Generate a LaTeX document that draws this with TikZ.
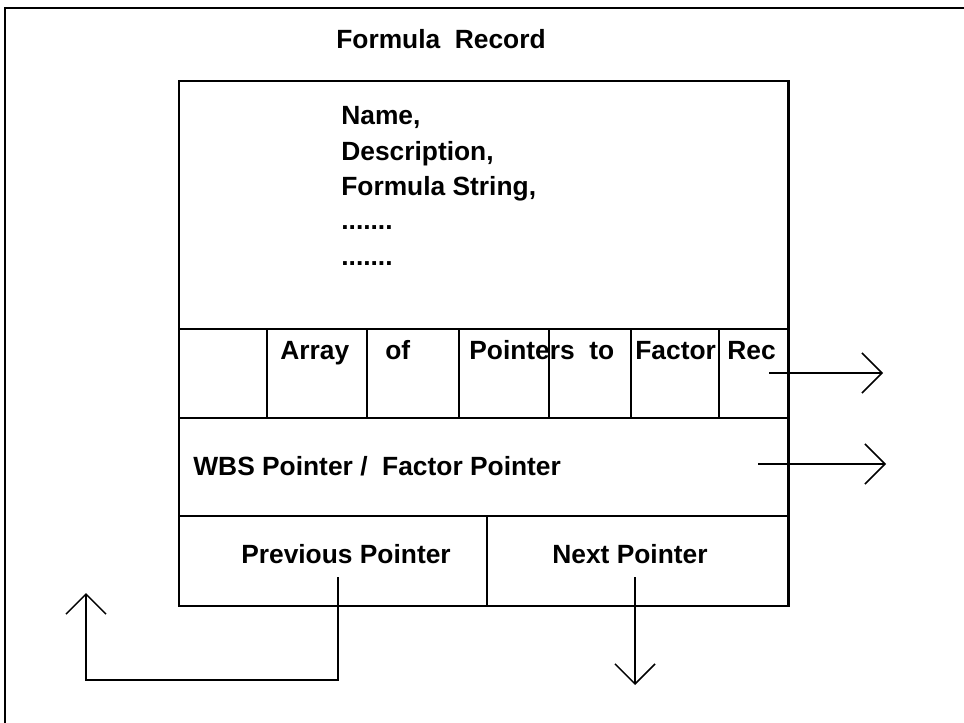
\documentclass[tikz,border=0pt]{standalone}
\usepackage{fontspec}
\setmainfont{Liberation Sans}
\usetikzlibrary{arrows.meta}

\tikzset{
  lbl/.style={font=\bfseries\fontsize{15}{18}\selectfont, inner sep=0pt},
  ptr/.style={line width=0.9pt, -{Straight Barb[length=0.4cm, width=0.8cm, line width=0.9pt]}},
}

\begin{document}
\begin{tikzpicture}[x=0.02cm, y=-0.02cm]
\useasboundingbox (0,0) rectangle (964,723);
% frame
\draw [line width=1.1pt] (5,723) -- (5,8) -- (964,8);
\node [lbl, anchor=base] (title) at (441,49) {Formula\ \ Record};

% the record
\draw [line width=1.7pt] (179,81) rectangle (788,606);
\draw [line width=1.1pt] (179,329) -- (788,329);
\draw [line width=1.1pt] (179,418) -- (788,418);
\draw [line width=1.1pt] (179,516) -- (788,516);
\foreach \x in {267,367,459,549,631,719}
  \draw [line width=0.9pt] (\x,329) -- (\x,418);
\draw [line width=0.9pt] (487,516) -- (487,606);

\node [lbl, anchor=base west] (fName) at (341,125) {Name,};
\node [lbl, anchor=base west] (fDesc) at (341,160) {Description,};
\node [lbl, anchor=base west] (fStr) at (341,195) {Formula String,};
\node [lbl, anchor=base west] (fDotsA) at (341,230) {.......};
\node [lbl, anchor=base west] (fDotsB) at (341,265) {.......};

\node [lbl, anchor=base west] (arr) at (280,359) {Array};
\node [lbl, anchor=base west] (of) at (385,359) {of};
\node [lbl, anchor=base west] (ptrs) at (469,359) {Pointers\ \ to};
\node [lbl, anchor=base west] (fac) at (635,359) {Factor};
\node [lbl, anchor=base west] (rec) at (727,359) {Rec};

\node [lbl, anchor=base west] (wbs) at (193,475) {WBS Pointer /\ \ Factor Pointer};
\node [lbl, anchor=base] (prev) at (346,563) {Previous Pointer};
\node [lbl, anchor=base] (next) at (630,563) {Next Pointer};

% pointers
\coordinate (recS) at (769,373);
\coordinate (recE) at (883,373);
\coordinate (wbsS) at (758,464);
\coordinate (wbsE) at (886,464);
\coordinate (prevS) at (338,577);
\coordinate (prevC1) at (338,680);
\coordinate (prevC2) at (86,680);
\coordinate (prevE) at (86,593);
\coordinate (nextS) at (635,577);
\coordinate (nextE) at (635,685);

\draw [ptr] (recS) -- (recE);
\draw [ptr] (wbsS) -- (wbsE);
\draw [ptr] (prevS) -- (prevC1) -- (prevC2) -- (prevE);
\draw [ptr] (nextS) -- (nextE);
\end{tikzpicture}
\end{document}
